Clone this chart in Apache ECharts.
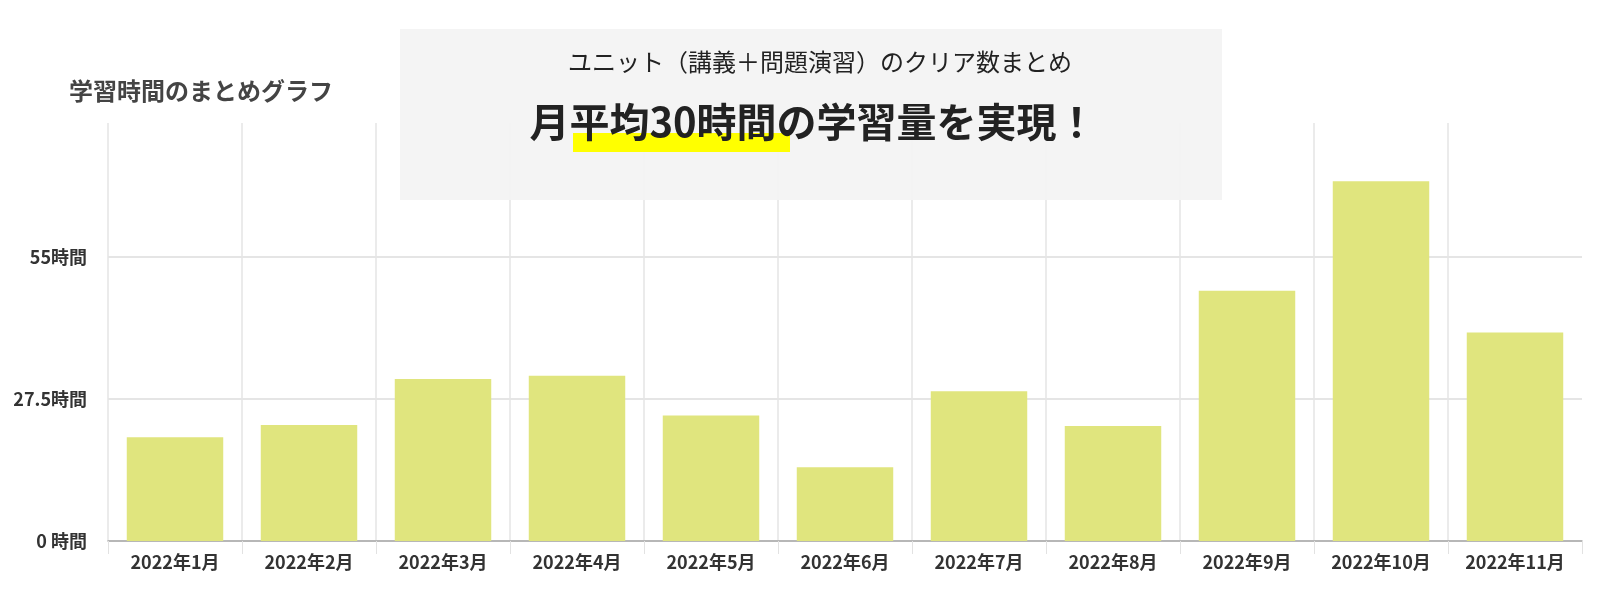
<!DOCTYPE html>
<html>
<head>
<meta charset="utf-8">
<script src="https://cdn.jsdelivr.net/npm/echarts@6/dist/echarts.min.js"></script>
<style>
html,body{margin:0;padding:0;background:#fff;}
#c{width:1600px;height:594px;}
</style>
</head>
<body>
<div id="c"></div>
<script>
const months = ['2022年1月','2022年2月','2022年3月','2022年4月','2022年5月','2022年6月','2022年7月','2022年8月','2022年9月','2022年10月','2022年11月'];
const hours = [20.1, 22.5, 31.4, 32.0, 24.3, 14.3, 29.0, 22.3, 48.5, 69.7, 40.4];
const yTickValues = [0, 27.5, 55];
const yTickLabels = ['0 時間', '27.5時間', '55時間'];
const chartTitle = '学習時間のまとめグラフ';
const subTitle = 'ユニット（講義＋問題演習）のクリア数まとめ';
const headline = '月平均30時間の学習量を実現！';

const FONT = '"Noto Sans CJK JP", "Noto Sans", sans-serif';
const chart = echarts.init(document.getElementById('c'));
chart.setOption({
  backgroundColor: '#ffffff',
  animation: false,
  title: {
    text: chartTitle,
    left: 69, top: 79, padding: 0,
    textStyle: {fontFamily: FONT, fontSize: 24, fontWeight: 'bold', color: '#444'}
  },
  grid: {left: 108, right: 18, top: 123, bottom: 53},
  xAxis: {
    type: 'category',
    data: months,
    boundaryGap: true,
    axisLine: {show: true, lineStyle: {color: '#a8a8a8', width: 1.5}},
    axisTick: {show: true, length: 13, interval: 0, lineStyle: {color: '#e2e2e2'}},
    axisLabel: {interval: 0, margin: 12, fontFamily: FONT, fontSize: 18, fontWeight: 'bold', color: '#333'},
    splitLine: {show: true, interval: 0, showMaxLine: false, lineStyle: {color: '#e4e4e4', width: 1.5}}
  },
  yAxis: {
    type: 'value',
    min: 0, max: 81, interval: 27.5,
    axisLine: {show: false},
    axisTick: {show: false},
    axisLabel: {
      margin: 21, showMaxLabel: false,
      fontFamily: FONT, fontSize: 18, fontWeight: 'bold', color: '#333',
      formatter: function (v) {
        const i = yTickValues.indexOf(v);
        return i >= 0 ? yTickLabels[i] : '';
      }
    },
    splitLine: {show: true, showMaxLine: false, lineStyle: {color: '#dcdcdc', width: 1.5}}
  },
  series: [{
    type: 'bar',
    data: hours,
    barWidth: '72%',
    itemStyle: {color: '#e0e57e'},
    z: 2
  }],
  graphic: [
    {type: 'rect', z: 10, shape: {x: 400, y: 29, width: 822, height: 171},
     style: {fill: 'rgba(243,243,243,0.93)'}},
    {type: 'rect', z: 11, shape: {x: 573, y: 133, width: 217, height: 19},
     style: {fill: '#ffff00'}},
    {type: 'text', z: 12, x: 820, y: 62,
     style: {text: subTitle, fontFamily: FONT, fontSize: 24, fontWeight: 'normal', fill: '#222',
             align: 'center', verticalAlign: 'middle'}},
    {type: 'text', z: 12, x: 813, y: 122,
     style: {text: headline, fontFamily: FONT, fontSize: 40, fontWeight: 'bold', fill: '#222',
             align: 'center', verticalAlign: 'middle'}}
  ]
});
</script>
</body>
</html>
